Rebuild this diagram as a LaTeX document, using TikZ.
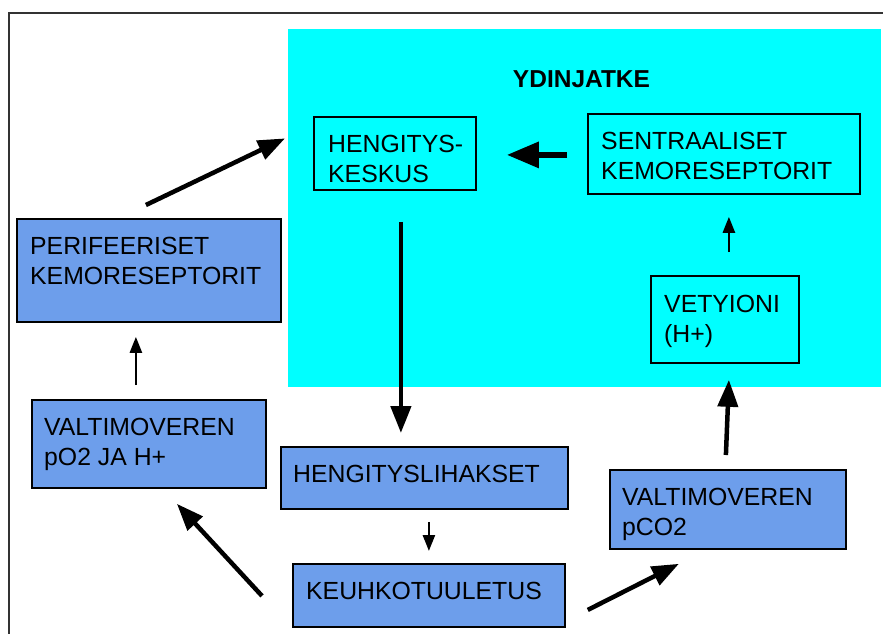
\documentclass[tikz,border=0pt]{standalone}
\usepackage{fontspec}
\setmainfont{Liberation Sans}
\usetikzlibrary{arrows.meta,calc}
\definecolor{boxblue}{HTML}{6D9EEB}
\definecolor{medcyan}{HTML}{00FFFF}
\definecolor{framegray}{HTML}{333333}
\begin{document}
\begin{tikzpicture}[x=1pt,y=-1pt,
  bluebox/.style={draw=black, line width=1.8pt, fill=boxblue, rectangle, inner sep=0pt, anchor=north west},
  cyanbox/.style={draw=black, line width=1.8pt, rectangle, inner sep=0pt, anchor=north west},
  lbl/.style={anchor=base west, inner sep=0pt, align=left, font=\fontsize{24.8}{30}\selectfont},
  hugearr/.style={line width=6pt, -{Triangle[length=32pt,width=25pt]}},
  bigarr/.style={line width=4.5pt, -{Triangle[length=27pt,width=20pt]}},
  thinarr/.style={line width=2.5pt, -{Triangle[length=16pt,width=12pt]}}
]
\useasboundingbox (0,0) rectangle (883,633);
\clip (0,0) rectangle (883,633);
\fill[white] (0,0) rectangle (883,633);
\draw[framegray, line width=2pt] (9,13) rectangle (900,650);
% medulla region
\node[fill=medcyan, anchor=north west, minimum width=593pt, minimum height=358pt, inner sep=0pt] (ydinjatke) at (288,29) {};
\node[anchor=base, inner sep=0pt, font=\bfseries\fontsize{24.5}{30}\selectfont] (ydintxt) at (581.5,87) {YDINJATKE};
% boxes
\node[cyanbox, minimum width=162pt, minimum height=73pt] (heng) at (313,116) {};
\node[cyanbox, minimum width=272pt, minimum height=80pt] (sentr) at (587,113) {};
\node[cyanbox, minimum width=148pt, minimum height=87pt] (vety) at (650,275) {};
\node[bluebox, minimum width=264pt, minimum height=103pt] (peri) at (16,218) {};
\node[bluebox, minimum width=234pt, minimum height=88pt] (valto) at (31,399) {};
\node[bluebox, minimum width=287pt, minimum height=62pt] (lihak) at (280,446) {};
\node[bluebox, minimum width=272pt, minimum height=63pt] (keuhko) at (292,563) {};
\node[bluebox, minimum width=236pt, minimum height=79pt] (pco) at (609,469) {};
% texts (base anchor = baseline of the last line)
\node[lbl] (hengtxt) at ($(heng.north west)+(15,66.5)$) {HENGITYS-\\KESKUS};
\node[lbl] (sentrtxt) at ($(sentr.north west)+(14,66.5)$) {SENTRAALISET\\KEMORESEPTORIT};
\node[lbl] (vetytxt) at ($(vety.north west)+(14,67)$) {VETYIONI\\(H+)};
\node[lbl] (peritxt) at ($(peri.north west)+(14,66.5)$) {PERIFEERISET\\KEMORESEPTORIT};
\node[lbl] (valtotxt) at ($(valto.north west)+(13,66.5)$) {VALTIMOVEREN\\pO2 JA H+};
\node[lbl] (lihaktxt) at ($(lihak.north west)+(13,36.5)$) {HENGITYSLIHAKSET};
\node[lbl] (keuhkotxt) at ($(keuhko.north west)+(14,36.5)$) {KEUHKOTUULETUS};
\node[lbl] (pcotxt) at ($(pco.north west)+(13,66.5)$) {VALTIMOVEREN\\pCO2};
% arrows
\draw[bigarr] ($(peri.north)+(-3,-13)$) -- ($(heng.west)+(-28,-15)$);
\draw[hugearr] ($(sentr.west)+(-20,1)$) -- ($(heng.east)+(30,1.5)$);
\draw[bigarr] ($(heng.south)+(6,31)$) -- ($(lihak.north)+(-23.5,-13)$);
\draw[thinarr] ($(valto.north)+(-13,-14)$) -- ($(peri.south)+(-13,14)$);
\draw[thinarr] ($(lihak.south)+(4.5,12)$) -- ($(keuhko.north)+(0,-12)$);
\draw[bigarr] ($(keuhko.west)+(-30,0.5)$) -- ($(valto.south)+(28,15)$);
\draw[bigarr] ($(keuhko.east)+(22,14.5)$) -- ($(pco.south)+(-49,14)$);
\draw[bigarr] ($(pco.north)+(-2,-14)$) -- ($(vety.south)+(4,16)$);
\draw[thinarr] ($(vety.north)+(4,-23)$) -- ($(sentr.south)+(5,22)$);
\end{tikzpicture}
\end{document}
